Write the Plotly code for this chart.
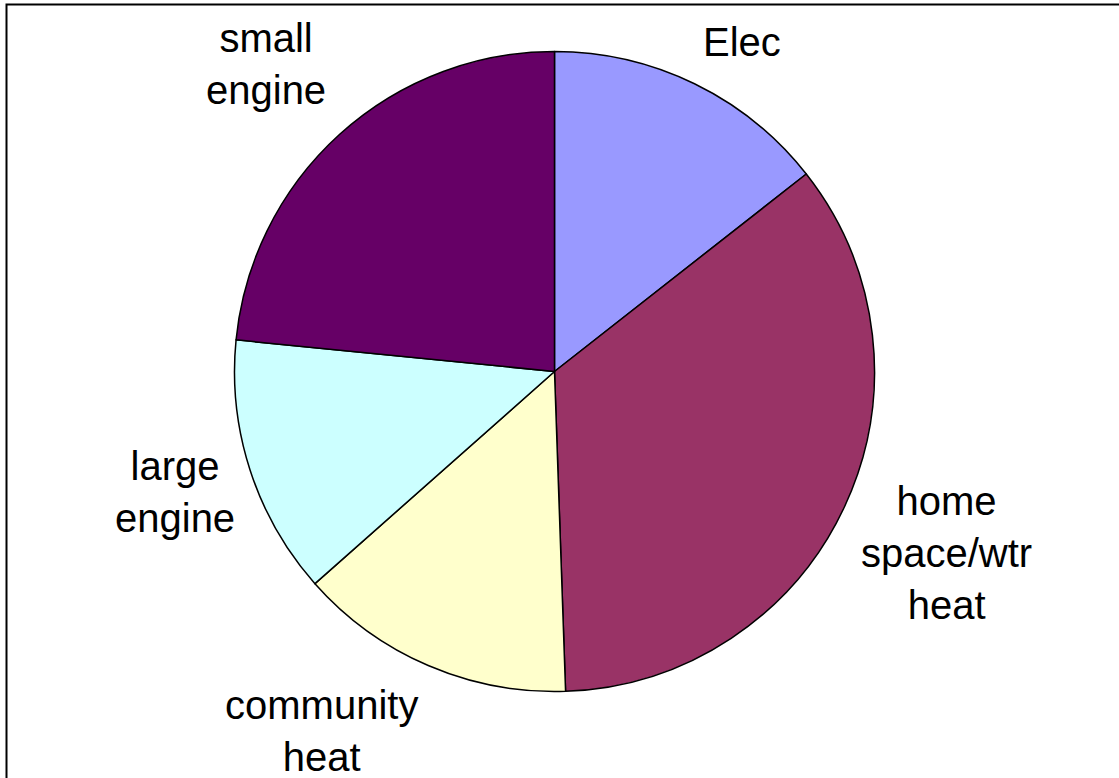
import plotly.graph_objects as go

labels = ["Elec", "home space/wtr heat", "community heat", "large engine", "small engine"]
label_text = ["Elec", "home<br>space/wtr<br>heat", "community<br>heat", "large<br>engine", "small<br>engine"]
values = [14.4, 35.0, 14.0, 13.1, 23.4]
colors = ["#9999FF", "#993366", "#FFFFCC", "#CCFFFF", "#660066"]

W, H = 1119, 778
cx, cy, r = 554.5, 371.5, 320

fig = go.Figure(go.Pie(
    labels=labels, values=values, sort=False, direction="clockwise", rotation=0,
    marker=dict(colors=colors, line=dict(color="black", width=1.5)),
    textinfo="none", hoverinfo="label+value", showlegend=False,
    domain=dict(x=[(cx - r) / W, (cx + r) / W], y=[(H - cy - r) / H, (H - cy + r) / H]),
))

label_pos = [(742, 42), (946, 553), (321, 731), (175, 492), (266, 64)]
for t, (x, y) in zip(label_text, label_pos):
    fig.add_annotation(text=t, x=x / W, y=1 - y / H, xref="paper", yref="paper",
                       showarrow=False, xanchor="center", yanchor="middle",
                       font=dict(family="Arial, Liberation Sans", size=40, color="black"))

fig.add_shape(type="rect", xref="paper", yref="paper",
              x0=6.5 / W, x1=1.02, y0=-0.05, y1=1 - 4.5 / H,
              line=dict(color="black", width=2), fillcolor="rgba(0,0,0,0)")

fig.update_layout(width=W, height=H, margin=dict(l=0, r=0, t=0, b=0),
                  paper_bgcolor="white", plot_bgcolor="white")
fig.write_html("out.html", config={"displayModeBar": False},
               post_script="document.body.style.margin='0px';document.body.style.overflow='hidden';")
